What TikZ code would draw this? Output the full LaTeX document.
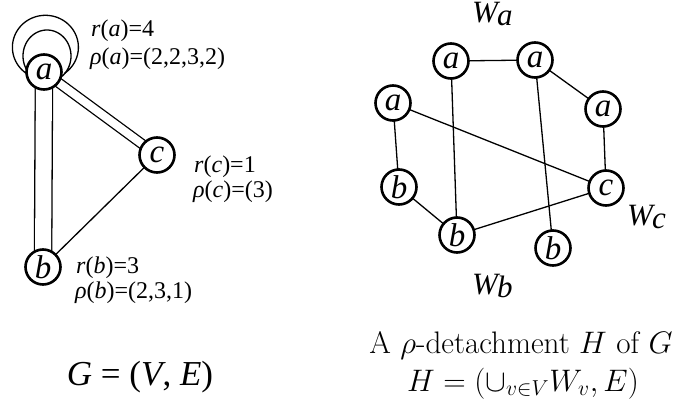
\documentclass[tikz,border=0pt]{standalone}
\usepackage[no-math]{fontspec}
\newfontfamily\tms{Liberation Serif}
\usetikzlibrary{calc}
\pgfdeclarelayer{background}
\pgfsetlayers{background,main}
\tikzset{
  vtx/.style={circle, draw, line width=2.6pt, fill=white, minimum size=35pt, inner sep=0pt,
    font=\tms\itshape\fontsize{33}{33}\selectfont},
  edg/.style={line width=1.3pt},
  lbl/.style={anchor=base west, inner sep=0pt, font=\tms\fontsize{24}{28}\selectfont},
  wlbl/.style={anchor=base west, inner sep=0pt, font=\tms\itshape\fontsize{31}{31}\selectfont},
  captxt/.style={anchor=base, inner sep=0pt, scale=1.5, transform shape, font=\fontsize{20.74}{22}\selectfont},
}
\begin{document}
\begin{tikzpicture}[x=1pt,y=-1pt]
\useasboundingbox (0,0) rectangle (685,404);
% left graph
\node[vtx] (a) at (44,72) {a};
\node[vtx] (c) at (157,155) {c};
\node[vtx] (b) at (43,267) {b};
\begin{pgfonlayer}{background}
  \draw[edg] (a.center) -- (b.center);
  \draw[edg, double, double distance=16pt] (a.center) -- (b.center);
  \draw[edg, double, double distance=8pt] (a.center) -- (c.center);
  \draw[edg] (b.center) -- (c.center);
  \draw[edg, shift={(a.center)}] plot[domain=125:415, samples=80, smooth] ({1.4+33*cos(\x)},{-24.7+32*sin(\x)});
  \draw[edg, shift={(a.center)}] plot[domain=130:415, samples=80, smooth] ({3+24*cos(\x)},{-16+26*sin(\x)});
\end{pgfonlayer}
\node[lbl] (la1) at (91,37) {\textit{r}(\textit{a})=4};
\node[lbl] (la2) at (90,65) {\textit{ρ}(\textit{a})=(2,2,3,2)};
\node[lbl] (lc1) at (194,172) {\textit{r}(\textit{c})=1};
\node[lbl] (lc2) at (193,197) {\textit{ρ}(\textit{c})=(3)};
\node[lbl] (lb1) at (76,273) {\textit{r}(\textit{b})=3};
\node[lbl] (lb2) at (75,298) {\textit{ρ}(\textit{b})=(2,3,1)};
\node[anchor=base, inner sep=0pt, font=\tms\fontsize{35}{35}\selectfont] (G) at (140,385) {\textit{G} = (\textit{V}, \textit{E})};
% right graph
\node[vtx] (a1) at (451,61) {a};
\node[vtx] (a2) at (535,60) {a};
\node[vtx] (a3) at (393,103) {a};
\node[vtx] (a4) at (603,109) {a};
\node[vtx] (b1) at (399,187) {b};
\node[vtx] (b2) at (457,235) {b};
\node[vtx] (c1) at (606,188) {c};
\node[vtx] (b3) at (553,248) {b};
\begin{pgfonlayer}{background}
  \draw[edg] (a1.center) -- (a2.center);
  \draw[edg] (a2.center) -- (a4.center);
  \draw[edg] (a3.center) -- (c1.center);
  \draw[edg] (a3.center) -- (b1.center);
  \draw[edg] (a1.center) -- (b2.center);
  \draw[edg] (a2.center) -- (b3.center);
  \draw[edg] (a4.center) -- (c1.center);
  \draw[edg] (b1.center) -- (b2.center);
  \draw[edg] (b2.center) -- (c1.center);
\end{pgfonlayer}
\node[wlbl] (Wa) at (472,23) {W\kern-1pt\raisebox{-3pt}{a}};
\node[wlbl] (Wc) at (627,225) {W\kern-1pt\raisebox{-3pt}{c}};
\node[wlbl] (Wb) at (472,294) {W\kern-1pt\raisebox{-3pt}{b}};
\node[captxt] (cap1) at (521,353) {A $\rho$-detachment $H$ of $G$};
\node[captxt] (cap2) at (523,391) {$H=(\cup_{v\in V}W_v,E)$};
\end{tikzpicture}
\end{document}
